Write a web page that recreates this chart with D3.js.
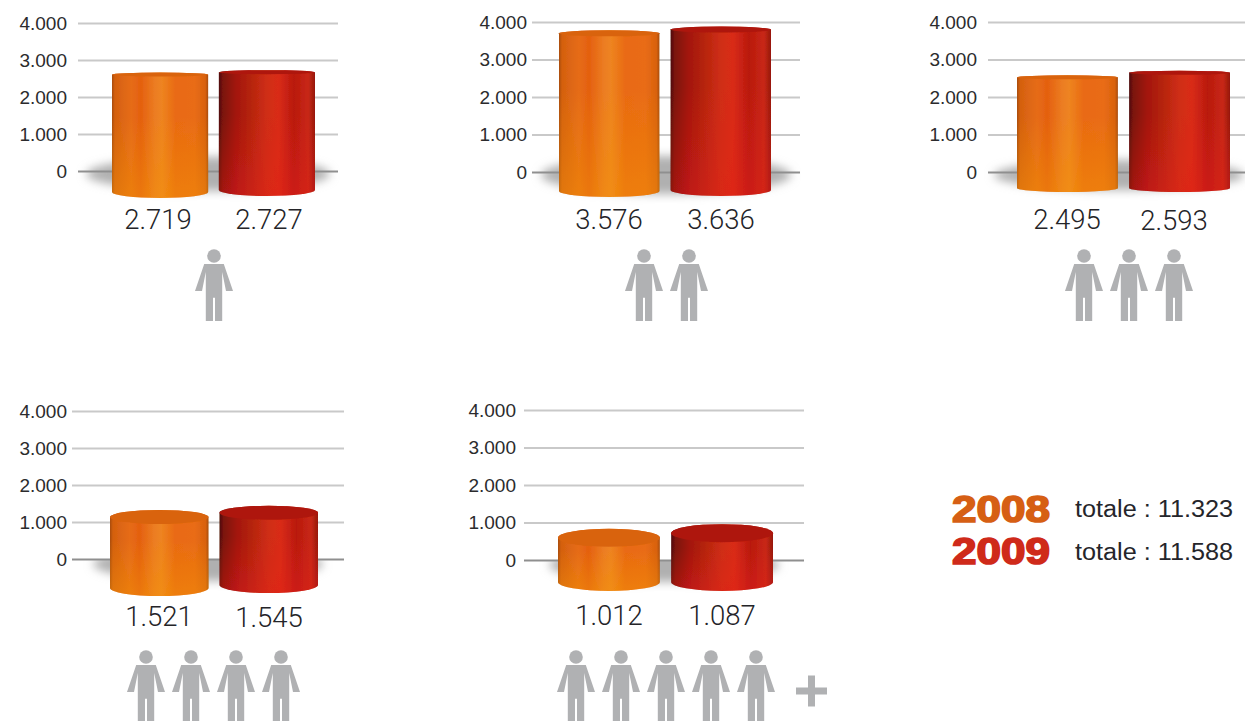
<!DOCTYPE html>
<html><head><meta charset="utf-8">
<style>
html,body{margin:0;padding:0;background:#fff;overflow:hidden}
svg{display:block}
.tick text{font-family:"Liberation Sans",sans-serif;font-size:19px;fill:#2b2b2d}
.val{font-family:Roboto,"Liberation Sans",sans-serif;font-weight:300;font-size:27.5px;fill:#242428;text-anchor:middle}
.tot{font-family:"Liberation Sans",sans-serif;font-size:23px;fill:#25252a}
.yr{font-family:"Liberation Sans",sans-serif;font-weight:700;font-size:37px;stroke-width:1.7}
</style></head><body>
<script src="https://cdn.jsdelivr.net/npm/d3@7/dist/d3.min.js"></script>
<script>
const values2008=[2719,3576,2495,1521,1012];
const values2009=[2727,3636,2593,1545,1087];
const peopleCount=[1,2,3,4,5];
const axisTicks=[0,1000,2000,3000,4000];
const years=["2008","2009"];
const totals=[11323,11588];

const axisTop=[23,22,22,411,410];
const axisBase=[171,172,172,559,560];
const lineLeft=[78,532,988,72,524];
const lineRight=[338,800,1250,344,804];
const tickPad=[11,5,11,5,8];
const barLeft=[112,559,1017,110,558];
const barRight=[315,771,1230,318,773];
const base2008=[198,197,192,596,591];
const base2009=[196,196,192,593,591];
const barSpan=[184.5,186.4,187,226,246];
const capRy=[2,3,2,7,9];
const baseRy=[6,6,4,8,9];
const label2008X=[158,609,1067,159,609];
const label2009X=[269,721,1174,269,722];
const label2008Y=[229,229,229,626,625];
const label2009Y=[229,229,230,627,625];
const peopleX=[214,644,1084,146,576];
const peopleY=[256,256,256,657,657];
const shadowRx=[122,125,125,115,115];
const shadowDy=[3,3,3,5,5];
const shadowRy=[17,19,15,17,17];
const shadowClip=[-30,-30,-30,0,0];

const orangeStops=[[0,"#a84c0c"],[.03,"#d4600f"],[.2,"#e66c18"],[.3,"#e4600f"],[.45,"#ec7d22"],[.52,"#ee8420"],[.66,"#e96a12"],[.86,"#e96c14"],[.97,"#d9620f"],[1,"#a84c0c"]];
const redStops=[[0,"#4d0f08"],[.04,"#7a120c"],[.18,"#a3150f"],[.33,"#b5240f"],[.5,"#cf2e14"],[.62,"#d92c16"],[.78,"#b9190f"],[.93,"#c82814"],[1,"#96180e"]];
const yearColor=["#d65f14","#cf2a1a"];
const capColor=["#d9640f","#ae180e"];
const glowColor=["#f59a00","#e6201a"];
const PERSON="M-9.8,8 L9.8,8 L19,35 L12,35 L8.2,16 L8.2,65 L1,65 L1,41.7 L-1,41.7 L-1,65 L-8.2,65 L-8.2,16 L-12,35 L-19,35 Z";

const fmt=d3.formatLocale({decimal:",",thousands:".",grouping:[3],currency:["","€"]}).format(",d");
const svg=d3.select("body").append("svg").attr("width",1245).attr("height",721);
const defs=svg.append("defs");
function grad(id,stops){
  const g=defs.append("linearGradient").attr("id",id);
  stops.forEach(s=>g.append("stop").attr("offset",s[0]).attr("stop-color",s[1]));
}
grad("g0",orangeStops);grad("g1",redStops);
glowColor.forEach((c,i)=>{
  const g=defs.append("linearGradient").attr("id","v"+i).attr("x1",0).attr("x2",0).attr("y1",0).attr("y2",1);
  g.append("stop").attr("offset",.35).attr("stop-color",c).attr("stop-opacity",0);
  g.append("stop").attr("offset",1).attr("stop-color",c).attr("stop-opacity",.4);
});
defs.append("filter").attr("id","soft").append("feGaussianBlur").attr("stdDeviation",.7);
defs.append("filter").attr("id","shadow").attr("x","-20%").attr("y","-60%").attr("width","140%").attr("height","220%")
  .append("feGaussianBlur").attr("stdDeviation",5);

values2008.forEach((v08,p)=>{
  const g=svg.append("g");
  const cx=(lineLeft[p]+lineRight[p])/2;
  const y=d3.scaleLinear().domain([0,4000]).range([axisBase[p],axisTop[p]]);
  defs.append("clipPath").attr("id","clip"+p).append("rect")
    .attr("x",0).attr("width",1245).attr("y",axisBase[p]+shadowClip[p]).attr("height",120);
  g.append("g").attr("clip-path",`url(#clip${p})`).append("ellipse")
    .attr("cx",cx).attr("cy",axisBase[p]+shadowDy[p]).attr("rx",shadowRx[p]).attr("ry",shadowRy[p])
    .attr("fill","#b0b0b0").attr("filter","url(#shadow)");
  const ax=g.append("g").attr("transform",`translate(${lineLeft[p]},0)`)
    .call(d3.axisLeft(y).tickValues(axisTicks).tickFormat(fmt).tickSize(-(lineRight[p]-lineLeft[p])).tickPadding(tickPad[p]));
  ax.select(".domain").remove();
  ax.selectAll(".tick line").attr("stroke",d=>d===0?"#8f8f8f":"#c9c9c9").attr("stroke-width",d=>d===0?2:1.8);

  const x=d3.scaleBand().domain(years).range([barLeft[p],barRight[p]]).paddingInner(.1);
  const bars=years.map((yr,i)=>({yr,i,v:i?values2009[p]:v08,base:i?base2009[p]:base2008[p]}));
  const gb=g.append("g").attr("filter","url(#soft)");
  bars.forEach(b=>{
    const by=d3.scaleLinear().domain([0,4000]).range([b.base,b.base-barSpan[p]]);
    const bx=x(b.yr),w=x.bandwidth(),rx=w/2;
    const top=by(b.v)+capRy[p],bot=b.base-baseRy[p];
    const shape=`M${bx},${top} A${rx},${capRy[p]} 0 0 1 ${bx+w},${top} L${bx+w},${bot} A${rx},${baseRy[p]} 0 0 1 ${bx},${bot} Z`;
    gb.append("path").attr("d",shape).attr("fill",`url(#g${b.i})`);
    gb.append("path").attr("d",shape).attr("fill",`url(#v${b.i})`);
    gb.append("ellipse").attr("cx",bx+rx).attr("cy",top).attr("rx",rx).attr("ry",capRy[p])
      .attr("fill",capColor[b.i]);
  });
  g.append("text").attr("class","val").attr("x",label2008X[p]).attr("y",label2008Y[p]).text(fmt(v08));
  g.append("text").attr("class","val").attr("x",label2009X[p]).attr("y",label2009Y[p]).text(fmt(values2009[p]));

  d3.range(peopleCount[p]).forEach(i=>{
    const pg=g.append("g").attr("transform",`translate(${peopleX[p]+i*45},${peopleY[p]})`).attr("fill","#b0b1b3");
    pg.append("circle").attr("r",6.8);
    pg.append("path").attr("d",PERSON);
  });
});

// "+" after the fifth group of figures
const plus=svg.append("g").attr("transform","translate(811.5,691)").attr("fill","#b0b1b3");
plus.append("rect").attr("x",-15.5).attr("y",-3.5).attr("width",31).attr("height",7);
plus.append("rect").attr("x",-3.5).attr("y",-15.5).attr("width",7).attr("height",31);

// legend
const legendYearY=[522,564],legendTotalY=[517,560];
years.forEach((yr,i)=>{
  svg.append("text").attr("class","yr").attr("x",952).attr("y",legendYearY[i])
    .attr("textLength",98).attr("lengthAdjust","spacingAndGlyphs")
    .attr("fill",yearColor[i]).attr("stroke",yearColor[i]).text(yr);
  svg.append("text").attr("class","tot").attr("x",1075).attr("y",legendTotalY[i])
    .attr("textLength",158).attr("lengthAdjust","spacingAndGlyphs")
    .text("totale : "+fmt(totals[i]));
});
</script>
</body></html>
